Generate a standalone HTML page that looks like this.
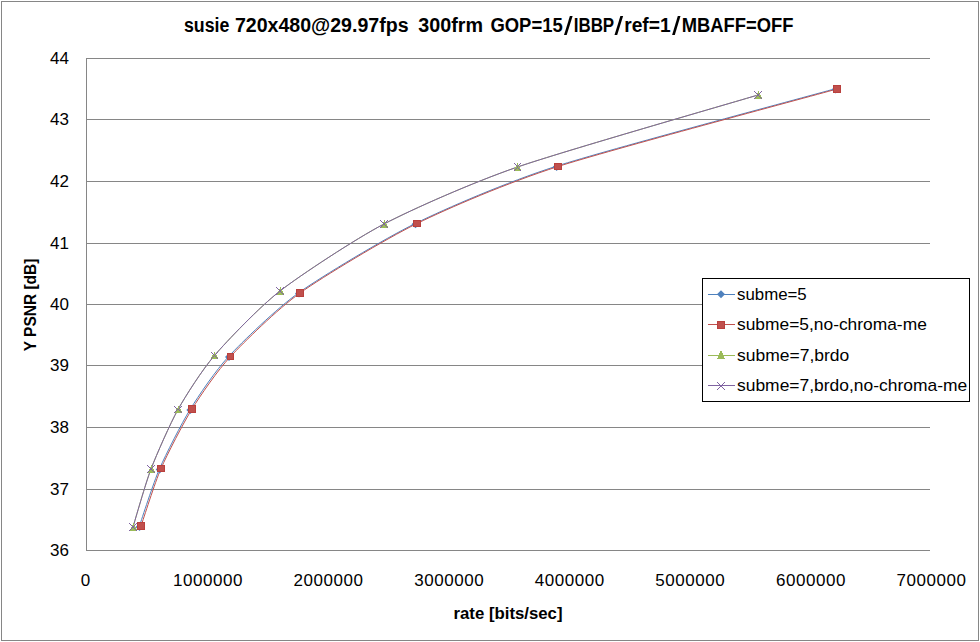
<!DOCTYPE html><html><head><meta charset="utf-8"><style>html,body{margin:0;padding:0;background:#fff;width:980px;height:642px;overflow:hidden}svg{display:block}text{font-family:"Liberation Sans",sans-serif}</style></head><body>
<svg width="980" height="642" viewBox="0 0 980 642">
<rect x="0" y="0" width="980" height="642" fill="#fff"/>
<rect x="1.5" y="1.5" width="977" height="639" fill="#fff" stroke="#868686" stroke-width="1"/>
<line x1="86" y1="58.5" x2="930" y2="58.5" stroke="#868686" stroke-width="1"/>
<line x1="86" y1="119.5" x2="930" y2="119.5" stroke="#868686" stroke-width="1"/>
<line x1="86" y1="181.5" x2="930" y2="181.5" stroke="#868686" stroke-width="1"/>
<line x1="86" y1="243.5" x2="930" y2="243.5" stroke="#868686" stroke-width="1"/>
<line x1="86" y1="304.5" x2="930" y2="304.5" stroke="#868686" stroke-width="1"/>
<line x1="86" y1="365.5" x2="930" y2="365.5" stroke="#868686" stroke-width="1"/>
<line x1="86" y1="427.5" x2="930" y2="427.5" stroke="#868686" stroke-width="1"/>
<line x1="86" y1="489.5" x2="930" y2="489.5" stroke="#868686" stroke-width="1"/>
<line x1="86" y1="550.5" x2="930" y2="550.5" stroke="#868686" stroke-width="1"/>
<line x1="86.5" y1="58" x2="86.5" y2="551" stroke="#868686" stroke-width="1"/>
<text x="69" y="64.0" font-size="17" text-anchor="end" fill="#000">44</text>
<text x="69" y="125.0" font-size="17" text-anchor="end" fill="#000">43</text>
<text x="69" y="187.0" font-size="17" text-anchor="end" fill="#000">42</text>
<text x="69" y="249.0" font-size="17" text-anchor="end" fill="#000">41</text>
<text x="69" y="310.0" font-size="17" text-anchor="end" fill="#000">40</text>
<text x="69" y="371.0" font-size="17" text-anchor="end" fill="#000">39</text>
<text x="69" y="433.0" font-size="17" text-anchor="end" fill="#000">38</text>
<text x="69" y="495.0" font-size="17" text-anchor="end" fill="#000">37</text>
<text x="69" y="556.0" font-size="17" text-anchor="end" fill="#000">36</text>
<text x="80.86" y="586" font-size="17" letter-spacing="0.55" fill="#000">0</text>
<text x="173.03" y="586" font-size="17" letter-spacing="0.55" fill="#000">1000000</text>
<text x="293.60" y="586" font-size="17" letter-spacing="0.55" fill="#000">2000000</text>
<text x="414.17" y="586" font-size="17" letter-spacing="0.55" fill="#000">3000000</text>
<text x="534.74" y="586" font-size="17" letter-spacing="0.55" fill="#000">4000000</text>
<text x="655.31" y="586" font-size="17" letter-spacing="0.55" fill="#000">5000000</text>
<text x="775.88" y="586" font-size="17" letter-spacing="0.55" fill="#000">6000000</text>
<text x="896.46" y="586" font-size="17" letter-spacing="0.55" fill="#000">7000000</text>
<text x="184.00" y="31.6" font-size="20" font-weight="bold" textLength="45.40" lengthAdjust="spacingAndGlyphs" fill="#000">susie</text>
<text x="234.90" y="31.6" font-size="20" font-weight="bold" textLength="173.70" lengthAdjust="spacingAndGlyphs" fill="#000">720x480@29.97fps</text>
<text x="418.30" y="31.6" font-size="20" font-weight="bold" textLength="64.80" lengthAdjust="spacingAndGlyphs" fill="#000">300frm</text>
<text x="490.40" y="31.6" font-size="20" font-weight="bold" textLength="72.30" lengthAdjust="spacingAndGlyphs" fill="#000">GOP=15</text>
<path d="M564.00,34.9 L566.70,34.9 L572.60,15.9 L569.90,15.9 Z" fill="#000"/>
<text x="573.70" y="31.6" font-size="20" font-weight="bold" textLength="40.50" lengthAdjust="spacingAndGlyphs" fill="#000">IBBP</text>
<path d="M614.50,34.9 L617.20,34.9 L623.10,15.9 L620.40,15.9 Z" fill="#000"/>
<text x="624.20" y="31.6" font-size="20" font-weight="bold" textLength="46.40" lengthAdjust="spacingAndGlyphs" fill="#000">ref=1</text>
<path d="M672.10,34.9 L674.80,34.9 L680.50,15.9 L677.80,15.9 Z" fill="#000"/>
<text x="681.80" y="31.6" font-size="20" font-weight="bold" textLength="111.70" lengthAdjust="spacingAndGlyphs" fill="#000">MBAFF=OFF</text>
<text x="453.5" y="618.5" font-size="17" font-weight="bold" textLength="109" lengthAdjust="spacingAndGlyphs" fill="#000">rate [bits/sec]</text>
<text transform="translate(36,351.3) rotate(-90)" x="0" y="0" font-size="17" font-weight="bold" textLength="92.7" lengthAdjust="spacingAndGlyphs" fill="#000">Y PSNR [dB]</text>
<g fill="none" stroke-width="1.0" stroke-linejoin="round">
<path d="M139.50,527.00 C141.92,520.10 153.59,483.54 159.70,469.50 C165.81,455.46 182.08,423.50 190.40,410.00 C198.72,396.50 215.97,370.99 229.00,357.00 C242.03,343.01 276.62,309.34 299.00,293.40 C321.38,277.46 384.59,239.38 415.50,224.20 C446.41,209.02 506.19,183.08 556.60,166.90 C607.01,150.72 802.12,98.70 835.60,89.40" stroke="#4F81BD" transform="translate(-0.2,-0.7)"/>
<path d="M141.00,526.00 C143.40,519.10 154.88,482.54 161.00,468.50 C167.12,454.46 183.66,422.44 192.00,409.00 C200.34,395.56 217.54,370.42 230.50,356.50 C243.46,342.58 277.62,308.96 300.00,293.00 C322.38,277.04 386.04,238.68 417.00,223.50 C447.96,208.32 507.60,182.64 558.00,166.50 C608.40,150.36 803.52,98.30 837.00,89.00" stroke="#C0504D"/>
<path d="M133.00,527.00 C135.16,520.04 145.60,483.10 151.00,469.00 C156.40,454.90 170.38,423.12 178.00,409.50 C185.62,395.88 202.26,369.72 214.50,355.50 C226.74,341.28 259.66,306.78 280.00,291.00 C300.34,275.22 355.50,238.88 384.00,224.00 C412.50,209.12 472.62,182.48 517.50,167.00 C562.38,151.52 729.14,103.64 758.00,95.00" stroke="#9BBB59"/>
<path d="M133.00,527.00 C135.16,520.04 145.60,483.10 151.00,469.00 C156.40,454.90 170.38,423.12 178.00,409.50 C185.62,395.88 202.26,369.72 214.50,355.50 C226.74,341.28 259.66,306.78 280.00,291.00 C300.34,275.22 355.50,238.88 384.00,224.00 C412.50,209.12 472.62,182.48 517.50,167.00 C562.38,151.52 729.14,103.64 758.00,95.00" stroke="#8064A2"/>
</g>
<path d="M139.50,523.00 L143.50,527.00 L139.50,531.00 L135.50,527.00 Z" fill="#4F81BD"/>
<path d="M159.70,465.50 L163.70,469.50 L159.70,473.50 L155.70,469.50 Z" fill="#4F81BD"/>
<path d="M190.40,406.00 L194.40,410.00 L190.40,414.00 L186.40,410.00 Z" fill="#4F81BD"/>
<path d="M229.00,353.00 L233.00,357.00 L229.00,361.00 L225.00,357.00 Z" fill="#4F81BD"/>
<path d="M299.00,289.40 L303.00,293.40 L299.00,297.40 L295.00,293.40 Z" fill="#4F81BD"/>
<path d="M415.50,220.20 L419.50,224.20 L415.50,228.20 L411.50,224.20 Z" fill="#4F81BD"/>
<path d="M556.60,162.90 L560.60,166.90 L556.60,170.90 L552.60,166.90 Z" fill="#4F81BD"/>
<path d="M835.60,85.40 L839.60,89.40 L835.60,93.40 L831.60,89.40 Z" fill="#4F81BD"/>
<rect x="137" y="522" width="8" height="8" fill="#B9403D" shape-rendering="crispEdges"/><rect x="138" y="523" width="6" height="6" fill="#C0504D" shape-rendering="crispEdges"/>
<rect x="157" y="465" width="8" height="7" fill="#B9403D" shape-rendering="crispEdges"/><rect x="158" y="466" width="6" height="5" fill="#C0504D" shape-rendering="crispEdges"/>
<rect x="188" y="405" width="8" height="8" fill="#B9403D" shape-rendering="crispEdges"/><rect x="189" y="406" width="6" height="6" fill="#C0504D" shape-rendering="crispEdges"/>
<rect x="227" y="353" width="7" height="7" fill="#B9403D" shape-rendering="crispEdges"/><rect x="228" y="354" width="5" height="5" fill="#C0504D" shape-rendering="crispEdges"/>
<rect x="296" y="289" width="8" height="8" fill="#B9403D" shape-rendering="crispEdges"/><rect x="297" y="290" width="6" height="6" fill="#C0504D" shape-rendering="crispEdges"/>
<rect x="413" y="220" width="8" height="7" fill="#B9403D" shape-rendering="crispEdges"/><rect x="414" y="221" width="6" height="5" fill="#C0504D" shape-rendering="crispEdges"/>
<rect x="554" y="163" width="8" height="7" fill="#B9403D" shape-rendering="crispEdges"/><rect x="555" y="164" width="6" height="5" fill="#C0504D" shape-rendering="crispEdges"/>
<rect x="833" y="85" width="8" height="8" fill="#B9403D" shape-rendering="crispEdges"/><rect x="834" y="86" width="6" height="6" fill="#C0504D" shape-rendering="crispEdges"/>
<path d="M133.50,523.00 L137.60,531 L129.40,531 Z" fill="#9BBB59" shape-rendering="crispEdges"/>
<path d="M151.50,465.00 L155.60,473 L147.40,473 Z" fill="#9BBB59" shape-rendering="crispEdges"/>
<path d="M178.50,406.00 L182.60,413 L174.40,413 Z" fill="#9BBB59" shape-rendering="crispEdges"/>
<path d="M214.50,352.00 L218.60,359 L210.40,359 Z" fill="#9BBB59" shape-rendering="crispEdges"/>
<path d="M280.50,287.00 L284.60,295 L276.40,295 Z" fill="#9BBB59" shape-rendering="crispEdges"/>
<path d="M384.50,220.00 L388.60,228 L380.40,228 Z" fill="#9BBB59" shape-rendering="crispEdges"/>
<path d="M517.50,163.00 L521.60,171 L513.40,171 Z" fill="#9BBB59" shape-rendering="crispEdges"/>
<path d="M758.50,91.00 L762.60,99 L754.40,99 Z" fill="#9BBB59" shape-rendering="crispEdges"/>
<path d="M129,523h1v1h-1zM129,530h1v1h-1zM130,524h1v1h-1zM130,529h1v1h-1zM131,525h1v1h-1zM131,528h1v1h-1zM132,526h1v1h-1zM132,527h1v1h-1zM133,526h1v1h-1zM133,527h1v1h-1zM134,525h1v1h-1zM134,528h1v1h-1zM135,524h1v1h-1zM135,529h1v1h-1zM136,523h1v1h-1zM136,530h1v1h-1z" fill="#8064A2" shape-rendering="crispEdges"/>
<path d="M147,465h1v1h-1zM147,472h1v1h-1zM148,466h1v1h-1zM148,471h1v1h-1zM149,467h1v1h-1zM149,470h1v1h-1zM150,468h1v1h-1zM150,469h1v1h-1zM151,468h1v1h-1zM151,469h1v1h-1zM152,467h1v1h-1zM152,470h1v1h-1zM153,466h1v1h-1zM153,471h1v1h-1zM154,465h1v1h-1zM154,472h1v1h-1z" fill="#8064A2" shape-rendering="crispEdges"/>
<path d="M174,406h1v1h-1zM174,412h1v1h-1zM175,407h1v1h-1zM175,411h1v1h-1zM176,408h1v1h-1zM176,410h1v1h-1zM177,409h1v1h-1zM178,409h1v1h-1zM179,408h1v1h-1zM179,410h1v1h-1zM180,407h1v1h-1zM180,411h1v1h-1zM181,406h1v1h-1zM181,412h1v1h-1z" fill="#8064A2" shape-rendering="crispEdges"/>
<path d="M211,352h1v1h-1zM211,358h1v1h-1zM212,353h1v1h-1zM212,357h1v1h-1zM213,354h1v1h-1zM213,356h1v1h-1zM214,355h1v1h-1zM215,354h1v1h-1zM215,356h1v1h-1zM216,353h1v1h-1zM216,357h1v1h-1zM217,352h1v1h-1zM217,358h1v1h-1z" fill="#8064A2" shape-rendering="crispEdges"/>
<path d="M276,287h1v1h-1zM276,294h1v1h-1zM277,288h1v1h-1zM277,293h1v1h-1zM278,289h1v1h-1zM278,292h1v1h-1zM279,290h1v1h-1zM279,291h1v1h-1zM280,290h1v1h-1zM280,291h1v1h-1zM281,289h1v1h-1zM281,292h1v1h-1zM282,288h1v1h-1zM282,293h1v1h-1zM283,287h1v1h-1zM283,294h1v1h-1z" fill="#8064A2" shape-rendering="crispEdges"/>
<path d="M380,220h1v1h-1zM380,227h1v1h-1zM381,221h1v1h-1zM381,226h1v1h-1zM382,222h1v1h-1zM382,225h1v1h-1zM383,223h1v1h-1zM383,224h1v1h-1zM384,223h1v1h-1zM384,224h1v1h-1zM385,222h1v1h-1zM385,225h1v1h-1zM386,221h1v1h-1zM386,226h1v1h-1zM387,220h1v1h-1zM387,227h1v1h-1z" fill="#8064A2" shape-rendering="crispEdges"/>
<path d="M514,163h1v1h-1zM514,170h1v1h-1zM515,164h1v1h-1zM515,169h1v1h-1zM516,165h1v1h-1zM516,168h1v1h-1zM517,166h1v1h-1zM517,167h1v1h-1zM518,165h1v1h-1zM518,168h1v1h-1zM519,164h1v1h-1zM519,169h1v1h-1zM520,163h1v1h-1zM520,170h1v1h-1z" fill="#8064A2" shape-rendering="crispEdges"/>
<path d="M754,91h1v1h-1zM754,98h1v1h-1zM755,92h1v1h-1zM755,97h1v1h-1zM756,93h1v1h-1zM756,96h1v1h-1zM757,94h1v1h-1zM757,95h1v1h-1zM758,94h1v1h-1zM758,95h1v1h-1zM759,93h1v1h-1zM759,96h1v1h-1zM760,92h1v1h-1zM760,97h1v1h-1zM761,91h1v1h-1zM761,98h1v1h-1z" fill="#8064A2" shape-rendering="crispEdges"/>
<rect x="702.5" y="278.5" width="267" height="123" fill="#fff" stroke="#000" stroke-width="1"/>
<rect x="708" y="294" width="27" height="1" fill="#4F81BD"/>
<path d="M721.00,290.20 L725.00,294.20 L721.00,298.20 L717.00,294.20 Z" fill="#4F81BD"/>
<text x="737" y="300.2" font-size="17" textLength="69.7" lengthAdjust="spacingAndGlyphs" fill="#000">subme=5</text>
<rect x="708" y="324" width="27" height="1" fill="#C0504D"/>
<rect x="717" y="321" width="8" height="8" fill="#B9403D" shape-rendering="crispEdges"/><rect x="718" y="322" width="6" height="6" fill="#C0504D" shape-rendering="crispEdges"/>
<text x="737" y="330.0" font-size="17" textLength="189.8" lengthAdjust="spacingAndGlyphs" fill="#000">subme=5,no-chroma-me</text>
<rect x="708" y="355" width="27" height="1" fill="#9BBB59"/>
<path d="M721.00,350.00 L725,359 L717,359 Z" fill="#9BBB59" shape-rendering="crispEdges"/>
<text x="737" y="360.5" font-size="17" textLength="112.3" lengthAdjust="spacingAndGlyphs" fill="#000">subme=7,brdo</text>
<rect x="708" y="385" width="27" height="1" fill="#8064A2"/>
<path d="M717,382h1v1h-1zM717,389h1v1h-1zM718,383h1v1h-1zM718,388h1v1h-1zM719,384h1v1h-1zM719,387h1v1h-1zM720,385h1v1h-1zM720,386h1v1h-1zM721,385h1v1h-1zM721,386h1v1h-1zM722,384h1v1h-1zM722,387h1v1h-1zM723,383h1v1h-1zM723,388h1v1h-1zM724,382h1v1h-1zM724,389h1v1h-1z" fill="#8064A2" shape-rendering="crispEdges"/>
<text x="737" y="391.0" font-size="17" textLength="230.2" lengthAdjust="spacingAndGlyphs" fill="#000">subme=7,brdo,no-chroma-me</text>
</svg></body></html>
